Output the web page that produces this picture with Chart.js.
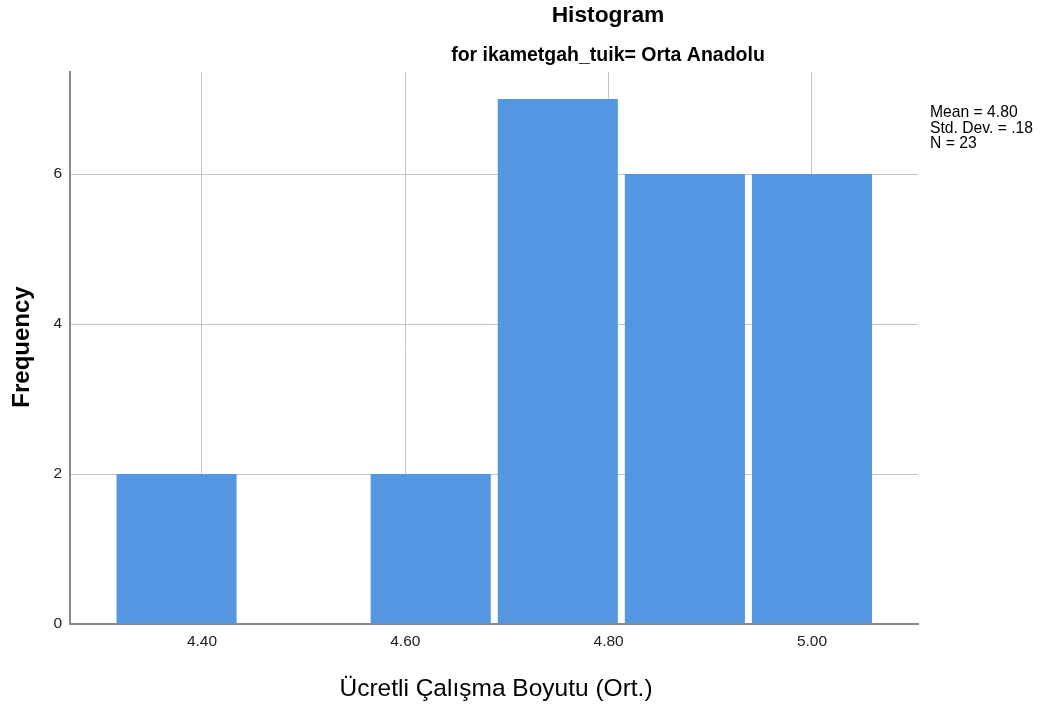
<!DOCTYPE html>
<html><head><meta charset="utf-8">
<script src="https://cdn.jsdelivr.net/npm/chart.js@4.4.1/dist/chart.umd.min.js"></script>
<style>html,body{margin:0;padding:0;background:#fff;}#wrap{width:1043px;height:704px;}</style>
</head><body><div id="wrap"><canvas id="c" width="1043" height="704"></canvas></div>
<script>
const binCenters = [4.375, 4.5, 4.625, 4.75, 4.875, 5.0];
const frequencies = [2, 0, 2, 7, 6, 6];
const xTickValues = [4.4, 4.6, 4.8, 5.0];
const yTickValues = [0, 2, 4, 6];
const titleText = "Histogram";
const subtitleText = "for ikametgah_tuik= Orta Anadolu";
const xTitle = "Ücretli Çalışma Boyutu (Ort.)";
const yTitle = "Frequency";
const statsLines = ["Mean = 4.80", "Std. Dev. = .18", "N = 23"];

const FONT = "'Liberation Sans', Arial, sans-serif";

const textPlugin = {
  id: 'texts',
  afterDraw(chart) {
    const ctx = chart.ctx;
    const a = chart.chartArea;
    ctx.save();
    ctx.fillStyle = '#000';
    ctx.textAlign = 'center';
    ctx.textBaseline = 'middle';
    ctx.font = "bold 22.8px " + FONT;
    ctx.fillText(titleText, 608, 16);
    ctx.font = "bold 19.5px " + FONT;
    ctx.fillText(subtitleText, 608, 56);
    ctx.font = "24.5px " + FONT;
    ctx.fillText(xTitle, 496, 689);
    ctx.save();
    ctx.translate(22, 347);
    ctx.rotate(-Math.PI / 2);
    ctx.font = "bold 24px " + FONT;
    ctx.fillText(yTitle, 0, 0);
    ctx.restore();
    ctx.textAlign = 'left';
    ctx.textBaseline = 'alphabetic';
    ctx.font = "15.7px " + FONT;
    statsLines.forEach((s, i) => ctx.fillText(s, a.right + 12, 117 + i * 15.5));
    ctx.restore();
  }
};

new Chart(document.getElementById('c'), {
  type: 'bar',
  data: {
    datasets: [{
      data: binCenters.map((x, i) => ({ x: x, y: frequencies[i] })),
      backgroundColor: '#5596e3',
      borderWidth: 0,
      barPercentage: 0.945,
      categoryPercentage: 1.0
    }]
  },
  options: {
    responsive: false,
    animation: false,
    devicePixelRatio: 1,
    layout: { padding: { top: 72, right: 125, left: 0, bottom: 0 } },
    plugins: { legend: { display: false }, tooltip: { enabled: false } },
    scales: {
      x: {
        type: 'linear',
        offset: false,
        min: 4.2702,
        max: 5.1043,
        afterBuildTicks: s => { s.ticks = xTickValues.map(v => ({ value: v })); },
        afterFit: s => { s.height = 80; },
        ticks: { color: '#222', font: { family: FONT, size: 15.5 }, padding: 8, maxRotation: 0,
                 callback: v => Number(v).toFixed(2) },
        grid: { color: '#c4c4c4', lineWidth: 1, drawTicks: false, offset: false },
        border: { color: '#8a8a8a', width: 2 }
      },
      y: {
        min: 0,
        max: 7.36,
        afterBuildTicks: s => { s.ticks = yTickValues.map(v => ({ value: v })); },
        afterFit: s => { s.width = 70; },
        ticks: { color: '#222', font: { family: FONT, size: 15.5 }, padding: 8 },
        grid: { color: '#c4c4c4', lineWidth: 1, drawTicks: false },
        border: { color: '#8a8a8a', width: 2 }
      }
    }
  },
  plugins: [textPlugin]
});
</script>
</body></html>
